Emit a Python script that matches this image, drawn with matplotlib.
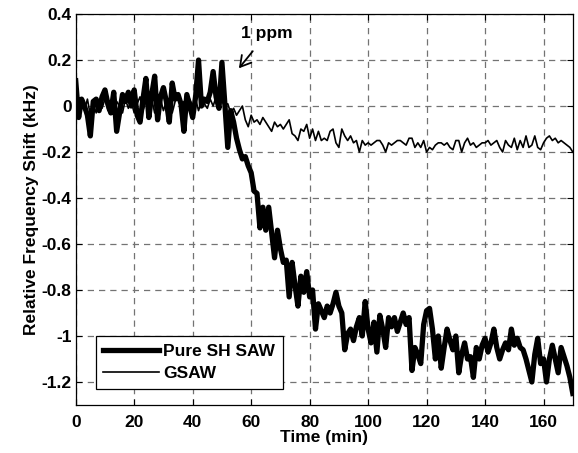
import numpy as np
import matplotlib
matplotlib.use("Agg")
from matplotlib import pyplot as plt

# time in minutes, one sample per minute
time_min = np.arange(0, 171)

# Pure SH SAW response (kHz)
pure_sh_saw = [
    0.11, -0.05, 0.03, 0.0, -0.04, -0.13, 0.02, 0.03, -0.02, 0.04,
    0.07, 0.01, -0.03, 0.06, -0.11, -0.03, 0.05, 0.02, 0.06, 0.0,
    0.07, -0.04, -0.07, 0.03, 0.12, -0.05, 0.05, 0.13, -0.06, 0.04,
    0.08, 0.02, -0.07, 0.10, 0.03, 0.05, 0.01, -0.11, 0.05, 0.0,
    -0.05, 0.04, 0.20, 0.0, 0.03, 0.02, 0.06, 0.15, 0.04, -0.01,
    0.19, 0.01, -0.18, -0.02, -0.07, -0.14, -0.19, -0.23, -0.22, -0.26,
    -0.29, -0.37, -0.38, -0.53, -0.44, -0.54, -0.44, -0.55, -0.66, -0.54,
    -0.62, -0.68, -0.67, -0.83, -0.68, -0.78, -0.87, -0.74, -0.81, -0.72,
    -0.83, -0.80, -0.97, -0.86, -0.89, -0.92, -0.87, -0.90, -0.86, -0.81,
    -0.87, -0.90, -1.06, -0.99, -0.97, -1.02, -0.96, -0.92, -1.00, -0.85,
    -0.97, -1.03, -0.94, -1.07, -0.91, -0.97, -1.05, -0.92, -0.96, -0.92,
    -0.98, -0.94, -0.90, -0.95, -0.92, -1.15, -1.05, -1.08, -1.12, -0.95,
    -0.89, -0.88, -0.97, -1.10, -1.00, -1.14, -1.05, -0.97, -1.02, -1.06,
    -1.00, -1.16, -1.08, -1.03, -1.10, -1.09, -1.18, -1.05, -1.10, -1.04,
    -1.01, -1.07, -1.03, -0.97, -1.05, -1.10, -1.06, -1.03, -1.06, -0.97,
    -1.04, -1.01, -1.05, -1.06, -1.10, -1.15, -1.20, -1.08, -1.01, -1.12,
    -1.10, -1.20, -1.10, -1.04, -1.10, -1.16, -1.05, -1.09, -1.13, -1.18,
    -1.25,
]

# GSAW response (kHz)
gsaw = [
    0.0, -0.03, 0.02, -0.02, 0.03, -0.04, 0.01, -0.03, 0.02, -0.01,
    0.03, -0.02, 0.01, -0.04, 0.02, 0.0, -0.03, 0.03, -0.01, 0.02,
    -0.03, 0.01, 0.04, -0.02, 0.02, -0.01, 0.03, -0.03, 0.01, 0.03,
    -0.02, 0.02, 0.0, -0.03, 0.02, 0.04, -0.01, 0.02, -0.02, 0.03,
    0.0, 0.03, -0.02, 0.02, 0.01, -0.01, 0.03, 0.0, 0.04, 0.01,
    0.02, 0.0, 0.01, -0.03, -0.01, -0.04, -0.02, 0.0, -0.06, -0.09,
    -0.04, -0.07, -0.06, -0.08, -0.05, -0.07, -0.09, -0.11, -0.07, -0.09,
    -0.08, -0.10, -0.08, -0.06, -0.12, -0.13, -0.15, -0.10, -0.11, -0.08,
    -0.14, -0.10, -0.15, -0.11, -0.15, -0.14, -0.15, -0.11, -0.10, -0.16,
    -0.18, -0.10, -0.13, -0.15, -0.13, -0.16, -0.15, -0.20, -0.15, -0.17,
    -0.16, -0.17, -0.16, -0.15, -0.15, -0.17, -0.20, -0.16, -0.17, -0.16,
    -0.15, -0.15, -0.16, -0.17, -0.14, -0.14, -0.18, -0.16, -0.18, -0.15,
    -0.20, -0.18, -0.19, -0.17, -0.16, -0.16, -0.17, -0.16, -0.18, -0.19,
    -0.15, -0.15, -0.20, -0.16, -0.14, -0.17, -0.16, -0.18, -0.17, -0.16,
    -0.16, -0.15, -0.17, -0.16, -0.15, -0.18, -0.20, -0.15, -0.17, -0.18,
    -0.14, -0.19, -0.15, -0.18, -0.13, -0.18, -0.17, -0.13, -0.18, -0.19,
    -0.16, -0.14, -0.13, -0.15, -0.14, -0.16, -0.15, -0.16, -0.17, -0.18,
    -0.20,
]

xticks = [0, 20, 40, 60, 80, 100, 120, 140, 160]
yticks = [0.4, 0.2, 0, -0.2, -0.4, -0.6, -0.8, -1, -1.2]
ytick_labels = ["0.4", "0.2", "0", "-0.2", "-0.4", "-0.6", "-0.8", "-1", "-1.2"]

plt.rcParams['font.family'] = ['Liberation Sans', 'DejaVu Sans']
plt.rcParams['font.weight'] = 'bold'
fs = 12.5

fig = plt.figure(figsize=(5.78, 4.53), dpi=100)
ax = fig.add_axes([0.131, 0.106, 0.86, 0.863])

ax.plot(time_min, pure_sh_saw, color='black', lw=3.8, label='Pure SH SAW',
        solid_joinstyle='round')
ax.plot(time_min, gsaw, color='black', lw=1.2, label='GSAW')

ax.set_xlim(0, 170)
ax.set_ylim(-1.3, 0.4)
ax.set_xticks(xticks)
ax.set_yticks(yticks)
ax.set_yticklabels(ytick_labels)
ax.tick_params(direction='in', top=True, right=True, labelsize=fs,
               length=4, width=0.8)
ax.tick_params(axis='y', pad=3)
ax.tick_params(axis='x', pad=7)
for lab in ax.get_xticklabels() + ax.get_yticklabels():
    lab.set_fontweight('bold')

ax.grid(True, color='0.45', linestyle=(0, (5, 4)), linewidth=0.9)
for sp in ax.spines.values():
    sp.set_linewidth(0.9)

ax.set_xlabel('Time (min)', fontsize=fs, fontweight='bold', labelpad=0)
ax.set_ylabel('Relative Frequency Shift (kHz)', fontsize=fs,
              fontweight='bold', labelpad=2)

ax.annotate('1 ppm', xy=(55.8, 0.164), xytext=(65.5, 0.316),
            fontsize=fs, fontweight='bold', ha='center', va='center',
            arrowprops=dict(arrowstyle='->,head_length=0.6,head_width=0.35',
                            color='black', lw=1.3, shrinkA=7, shrinkB=0))

leg = ax.legend(loc='lower left', bbox_to_anchor=(0.04, 0.041),
                fontsize=fs, frameon=True, fancybox=False,
                borderpad=0.45, handlelength=3.2, handletextpad=0.25,
                labelspacing=0.4, borderaxespad=0)
leg.get_frame().set_edgecolor('black')
leg.get_frame().set_linewidth(0.9)
leg.get_frame().set_alpha(1)
for t in leg.get_texts():
    t.set_fontweight('bold')

fig.savefig('out.png', dpi=100)
